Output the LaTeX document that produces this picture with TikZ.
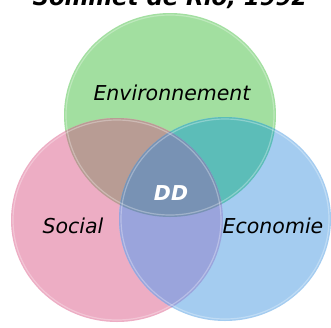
\documentclass[tikz,border=0pt]{standalone}
\usepackage{fontspec}
\newfontfamily\vf{DejaVu Sans}
\definecolor{cgreen}{HTML}{A2DFA0}
\definecolor{cpink}{HTML}{EDADC4}
\definecolor{cblue}{HTML}{A4CCF0}
\definecolor{cpg}{HTML}{B89C94}
\definecolor{cgb}{HTML}{5CBDB8}
\definecolor{cpb}{HTML}{9AA4DC}
\definecolor{cmid}{HTML}{7892B4}
\tikzset{
  lbl/.style={font=\vf\itshape\fontsize{20.5}{24}\selectfont, inner sep=0pt, anchor=base, text=black},
  ttl/.style={font=\vf\bfseries\itshape\fontsize{22.8}{26}\selectfont, inner sep=0pt, anchor=base, text=black},
  rim/.style={draw=white, draw opacity=0.3, line width=1.2pt}
}
\begin{document}
\begin{tikzpicture}[x=1pt,y=-1pt]
\useasboundingbox (0,0) rectangle (331,327);
\clip (0,0) rectangle (331,327);
\fill[white] (0,0) rectangle (331,327);
% base circles
\fill[cgreen] (170,115) ellipse [x radius=106pt, y radius=102pt];
\fill[cpink] (117,220) ellipse [x radius=106pt, y radius=102pt];
\fill[cblue] (225,219) ellipse [x radius=106pt, y radius=102pt];
% pink & green
\begin{scope}
  \clip (170,115) ellipse [x radius=106pt, y radius=102pt];
  \fill[cpg] (117,220) ellipse [x radius=106pt, y radius=102pt];
\end{scope}
% green & blue
\begin{scope}
  \clip (170,115) ellipse [x radius=106pt, y radius=102pt];
  \fill[cgb] (225,219) ellipse [x radius=106pt, y radius=102pt];
\end{scope}
% pink & blue
\begin{scope}
  \clip (117,220) ellipse [x radius=106pt, y radius=102pt];
  \fill[cpb] (225,219) ellipse [x radius=106pt, y radius=102pt];
\end{scope}
% all three
\begin{scope}
  \clip (117,220) ellipse [x radius=106pt, y radius=102pt];
  \clip (225,219) ellipse [x radius=106pt, y radius=102pt];
  \fill[cmid] (170,115) ellipse [x radius=106pt, y radius=102pt];
\end{scope}
% soft rims
\draw[rim] (170,115) ellipse [x radius=104pt, y radius=100pt];
\draw[rim] (117,220) ellipse [x radius=104pt, y radius=100pt];
\draw[rim] (225,219) ellipse [x radius=104pt, y radius=100pt];
% texts
\node[ttl] (title) at (170,5) {Sommet de Rio, 1992};
\node[lbl] (env) at (172,100) {Environnement};
\node[lbl] (soc) at (73,233) {Social};
\node[lbl] (eco) at (273,233) {Economie};
\node[font=\vf\bfseries\itshape\fontsize{20.5}{24}\selectfont, inner sep=0pt, anchor=base, text=white] (dd) at (171,200) {DD};
\end{tikzpicture}
\end{document}
